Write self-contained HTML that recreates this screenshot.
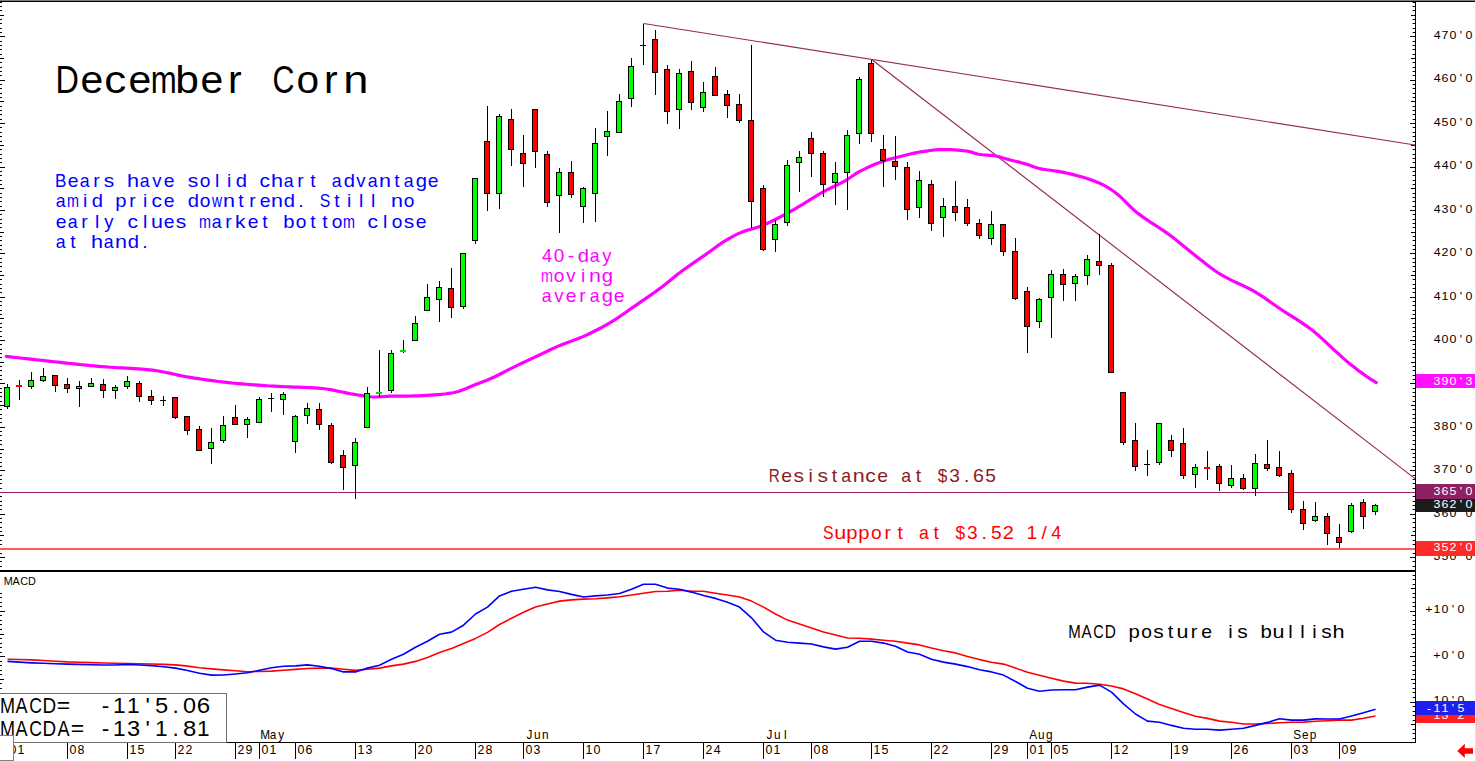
<!DOCTYPE html>
<html><head><meta charset="utf-8"><title>December Corn</title>
<style>
html,body{margin:0;padding:0;background:#fff}
body{width:1476px;height:762px;overflow:hidden;font-family:"Liberation Sans",sans-serif}
svg{display:block}
text{font-family:"Liberation Sans",sans-serif;text-anchor:middle}
</style></head><body>
<svg width="1476" height="762" viewBox="0 0 1476 762">
<rect width="1476" height="762" fill="#fff"/>
<g fill="#000" shape-rendering="crispEdges">
<rect x="0" y="566" width="2" height="1"/><rect x="1413" y="566" width="2" height="1"/><rect x="1412" y="566" width="1" height="1" fill="#999"/><rect x="0" y="561" width="2" height="1"/><rect x="1413" y="561" width="2" height="1"/><rect x="1412" y="561" width="1" height="1" fill="#999"/><rect x="0" y="557" width="5" height="1"/><rect x="1410" y="557" width="5" height="1"/><rect x="0" y="553" width="2" height="1"/><rect x="1413" y="553" width="2" height="1"/><rect x="1412" y="553" width="1" height="1" fill="#999"/><rect x="0" y="548" width="2" height="1"/><rect x="1413" y="548" width="2" height="1"/><rect x="1412" y="548" width="1" height="1" fill="#999"/><rect x="0" y="544" width="2" height="1"/><rect x="1413" y="544" width="2" height="1"/><rect x="1412" y="544" width="1" height="1" fill="#999"/><rect x="0" y="540" width="2" height="1"/><rect x="1413" y="540" width="2" height="1"/><rect x="1412" y="540" width="1" height="1" fill="#999"/><rect x="0" y="535" width="4" height="1"/><rect x="1411" y="535" width="4" height="1"/><rect x="0" y="531" width="2" height="1"/><rect x="1413" y="531" width="2" height="1"/><rect x="1412" y="531" width="1" height="1" fill="#999"/><rect x="0" y="527" width="2" height="1"/><rect x="1413" y="527" width="2" height="1"/><rect x="1412" y="527" width="1" height="1" fill="#999"/><rect x="0" y="522" width="2" height="1"/><rect x="1413" y="522" width="2" height="1"/><rect x="1412" y="522" width="1" height="1" fill="#999"/><rect x="0" y="518" width="2" height="1"/><rect x="1413" y="518" width="2" height="1"/><rect x="1412" y="518" width="1" height="1" fill="#999"/><rect x="0" y="514" width="5" height="1"/><rect x="1410" y="514" width="5" height="1"/><rect x="0" y="509" width="2" height="1"/><rect x="1413" y="509" width="2" height="1"/><rect x="1412" y="509" width="1" height="1" fill="#999"/><rect x="0" y="505" width="2" height="1"/><rect x="1413" y="505" width="2" height="1"/><rect x="1412" y="505" width="1" height="1" fill="#999"/><rect x="0" y="501" width="2" height="1"/><rect x="1413" y="501" width="2" height="1"/><rect x="1412" y="501" width="1" height="1" fill="#999"/><rect x="0" y="496" width="2" height="1"/><rect x="1413" y="496" width="2" height="1"/><rect x="1412" y="496" width="1" height="1" fill="#999"/><rect x="0" y="492" width="4" height="1"/><rect x="1411" y="492" width="4" height="1"/><rect x="0" y="488" width="2" height="1"/><rect x="1413" y="488" width="2" height="1"/><rect x="1412" y="488" width="1" height="1" fill="#999"/><rect x="0" y="483" width="2" height="1"/><rect x="1413" y="483" width="2" height="1"/><rect x="1412" y="483" width="1" height="1" fill="#999"/><rect x="0" y="479" width="2" height="1"/><rect x="1413" y="479" width="2" height="1"/><rect x="1412" y="479" width="1" height="1" fill="#999"/><rect x="0" y="475" width="2" height="1"/><rect x="1413" y="475" width="2" height="1"/><rect x="1412" y="475" width="1" height="1" fill="#999"/><rect x="0" y="470" width="5" height="1"/><rect x="1410" y="470" width="5" height="1"/><rect x="0" y="466" width="2" height="1"/><rect x="1413" y="466" width="2" height="1"/><rect x="1412" y="466" width="1" height="1" fill="#999"/><rect x="0" y="462" width="2" height="1"/><rect x="1413" y="462" width="2" height="1"/><rect x="1412" y="462" width="1" height="1" fill="#999"/><rect x="0" y="457" width="2" height="1"/><rect x="1413" y="457" width="2" height="1"/><rect x="1412" y="457" width="1" height="1" fill="#999"/><rect x="0" y="453" width="2" height="1"/><rect x="1413" y="453" width="2" height="1"/><rect x="1412" y="453" width="1" height="1" fill="#999"/><rect x="0" y="449" width="4" height="1"/><rect x="1411" y="449" width="4" height="1"/><rect x="0" y="444" width="2" height="1"/><rect x="1413" y="444" width="2" height="1"/><rect x="1412" y="444" width="1" height="1" fill="#999"/><rect x="0" y="440" width="2" height="1"/><rect x="1413" y="440" width="2" height="1"/><rect x="1412" y="440" width="1" height="1" fill="#999"/><rect x="0" y="435" width="2" height="1"/><rect x="1413" y="435" width="2" height="1"/><rect x="1412" y="435" width="1" height="1" fill="#999"/><rect x="0" y="431" width="2" height="1"/><rect x="1413" y="431" width="2" height="1"/><rect x="1412" y="431" width="1" height="1" fill="#999"/><rect x="0" y="427" width="5" height="1"/><rect x="1410" y="427" width="5" height="1"/><rect x="0" y="422" width="2" height="1"/><rect x="1413" y="422" width="2" height="1"/><rect x="1412" y="422" width="1" height="1" fill="#999"/><rect x="0" y="418" width="2" height="1"/><rect x="1413" y="418" width="2" height="1"/><rect x="1412" y="418" width="1" height="1" fill="#999"/><rect x="0" y="414" width="2" height="1"/><rect x="1413" y="414" width="2" height="1"/><rect x="1412" y="414" width="1" height="1" fill="#999"/><rect x="0" y="409" width="2" height="1"/><rect x="1413" y="409" width="2" height="1"/><rect x="1412" y="409" width="1" height="1" fill="#999"/><rect x="0" y="405" width="4" height="1"/><rect x="1411" y="405" width="4" height="1"/><rect x="0" y="401" width="2" height="1"/><rect x="1413" y="401" width="2" height="1"/><rect x="1412" y="401" width="1" height="1" fill="#999"/><rect x="0" y="396" width="2" height="1"/><rect x="1413" y="396" width="2" height="1"/><rect x="1412" y="396" width="1" height="1" fill="#999"/><rect x="0" y="392" width="2" height="1"/><rect x="1413" y="392" width="2" height="1"/><rect x="1412" y="392" width="1" height="1" fill="#999"/><rect x="0" y="388" width="2" height="1"/><rect x="1413" y="388" width="2" height="1"/><rect x="1412" y="388" width="1" height="1" fill="#999"/><rect x="0" y="383" width="5" height="1"/><rect x="1410" y="383" width="5" height="1"/><rect x="0" y="379" width="2" height="1"/><rect x="1413" y="379" width="2" height="1"/><rect x="1412" y="379" width="1" height="1" fill="#999"/><rect x="0" y="375" width="2" height="1"/><rect x="1413" y="375" width="2" height="1"/><rect x="1412" y="375" width="1" height="1" fill="#999"/><rect x="0" y="370" width="2" height="1"/><rect x="1413" y="370" width="2" height="1"/><rect x="1412" y="370" width="1" height="1" fill="#999"/><rect x="0" y="366" width="2" height="1"/><rect x="1413" y="366" width="2" height="1"/><rect x="1412" y="366" width="1" height="1" fill="#999"/><rect x="0" y="362" width="4" height="1"/><rect x="1411" y="362" width="4" height="1"/><rect x="0" y="357" width="2" height="1"/><rect x="1413" y="357" width="2" height="1"/><rect x="1412" y="357" width="1" height="1" fill="#999"/><rect x="0" y="353" width="2" height="1"/><rect x="1413" y="353" width="2" height="1"/><rect x="1412" y="353" width="1" height="1" fill="#999"/><rect x="0" y="349" width="2" height="1"/><rect x="1413" y="349" width="2" height="1"/><rect x="1412" y="349" width="1" height="1" fill="#999"/><rect x="0" y="344" width="2" height="1"/><rect x="1413" y="344" width="2" height="1"/><rect x="1412" y="344" width="1" height="1" fill="#999"/><rect x="0" y="340" width="5" height="1"/><rect x="1410" y="340" width="5" height="1"/><rect x="0" y="336" width="2" height="1"/><rect x="1413" y="336" width="2" height="1"/><rect x="1412" y="336" width="1" height="1" fill="#999"/><rect x="0" y="331" width="2" height="1"/><rect x="1413" y="331" width="2" height="1"/><rect x="1412" y="331" width="1" height="1" fill="#999"/><rect x="0" y="327" width="2" height="1"/><rect x="1413" y="327" width="2" height="1"/><rect x="1412" y="327" width="1" height="1" fill="#999"/><rect x="0" y="323" width="2" height="1"/><rect x="1413" y="323" width="2" height="1"/><rect x="1412" y="323" width="1" height="1" fill="#999"/><rect x="0" y="318" width="4" height="1"/><rect x="1411" y="318" width="4" height="1"/><rect x="0" y="314" width="2" height="1"/><rect x="1413" y="314" width="2" height="1"/><rect x="1412" y="314" width="1" height="1" fill="#999"/><rect x="0" y="310" width="2" height="1"/><rect x="1413" y="310" width="2" height="1"/><rect x="1412" y="310" width="1" height="1" fill="#999"/><rect x="0" y="305" width="2" height="1"/><rect x="1413" y="305" width="2" height="1"/><rect x="1412" y="305" width="1" height="1" fill="#999"/><rect x="0" y="301" width="2" height="1"/><rect x="1413" y="301" width="2" height="1"/><rect x="1412" y="301" width="1" height="1" fill="#999"/><rect x="0" y="297" width="5" height="1"/><rect x="1410" y="297" width="5" height="1"/><rect x="0" y="292" width="2" height="1"/><rect x="1413" y="292" width="2" height="1"/><rect x="1412" y="292" width="1" height="1" fill="#999"/><rect x="0" y="288" width="2" height="1"/><rect x="1413" y="288" width="2" height="1"/><rect x="1412" y="288" width="1" height="1" fill="#999"/><rect x="0" y="284" width="2" height="1"/><rect x="1413" y="284" width="2" height="1"/><rect x="1412" y="284" width="1" height="1" fill="#999"/><rect x="0" y="279" width="2" height="1"/><rect x="1413" y="279" width="2" height="1"/><rect x="1412" y="279" width="1" height="1" fill="#999"/><rect x="0" y="275" width="4" height="1"/><rect x="1411" y="275" width="4" height="1"/><rect x="0" y="271" width="2" height="1"/><rect x="1413" y="271" width="2" height="1"/><rect x="1412" y="271" width="1" height="1" fill="#999"/><rect x="0" y="266" width="2" height="1"/><rect x="1413" y="266" width="2" height="1"/><rect x="1412" y="266" width="1" height="1" fill="#999"/><rect x="0" y="262" width="2" height="1"/><rect x="1413" y="262" width="2" height="1"/><rect x="1412" y="262" width="1" height="1" fill="#999"/><rect x="0" y="258" width="2" height="1"/><rect x="1413" y="258" width="2" height="1"/><rect x="1412" y="258" width="1" height="1" fill="#999"/><rect x="0" y="253" width="5" height="1"/><rect x="1410" y="253" width="5" height="1"/><rect x="0" y="249" width="2" height="1"/><rect x="1413" y="249" width="2" height="1"/><rect x="1412" y="249" width="1" height="1" fill="#999"/><rect x="0" y="245" width="2" height="1"/><rect x="1413" y="245" width="2" height="1"/><rect x="1412" y="245" width="1" height="1" fill="#999"/><rect x="0" y="240" width="2" height="1"/><rect x="1413" y="240" width="2" height="1"/><rect x="1412" y="240" width="1" height="1" fill="#999"/><rect x="0" y="236" width="2" height="1"/><rect x="1413" y="236" width="2" height="1"/><rect x="1412" y="236" width="1" height="1" fill="#999"/><rect x="0" y="232" width="4" height="1"/><rect x="1411" y="232" width="4" height="1"/><rect x="0" y="227" width="2" height="1"/><rect x="1413" y="227" width="2" height="1"/><rect x="1412" y="227" width="1" height="1" fill="#999"/><rect x="0" y="223" width="2" height="1"/><rect x="1413" y="223" width="2" height="1"/><rect x="1412" y="223" width="1" height="1" fill="#999"/><rect x="0" y="219" width="2" height="1"/><rect x="1413" y="219" width="2" height="1"/><rect x="1412" y="219" width="1" height="1" fill="#999"/><rect x="0" y="214" width="2" height="1"/><rect x="1413" y="214" width="2" height="1"/><rect x="1412" y="214" width="1" height="1" fill="#999"/><rect x="0" y="210" width="5" height="1"/><rect x="1410" y="210" width="5" height="1"/><rect x="0" y="206" width="2" height="1"/><rect x="1413" y="206" width="2" height="1"/><rect x="1412" y="206" width="1" height="1" fill="#999"/><rect x="0" y="201" width="2" height="1"/><rect x="1413" y="201" width="2" height="1"/><rect x="1412" y="201" width="1" height="1" fill="#999"/><rect x="0" y="197" width="2" height="1"/><rect x="1413" y="197" width="2" height="1"/><rect x="1412" y="197" width="1" height="1" fill="#999"/><rect x="0" y="193" width="2" height="1"/><rect x="1413" y="193" width="2" height="1"/><rect x="1412" y="193" width="1" height="1" fill="#999"/><rect x="0" y="188" width="4" height="1"/><rect x="1411" y="188" width="4" height="1"/><rect x="0" y="184" width="2" height="1"/><rect x="1413" y="184" width="2" height="1"/><rect x="1412" y="184" width="1" height="1" fill="#999"/><rect x="0" y="180" width="2" height="1"/><rect x="1413" y="180" width="2" height="1"/><rect x="1412" y="180" width="1" height="1" fill="#999"/><rect x="0" y="175" width="2" height="1"/><rect x="1413" y="175" width="2" height="1"/><rect x="1412" y="175" width="1" height="1" fill="#999"/><rect x="0" y="171" width="2" height="1"/><rect x="1413" y="171" width="2" height="1"/><rect x="1412" y="171" width="1" height="1" fill="#999"/><rect x="0" y="167" width="5" height="1"/><rect x="1410" y="167" width="5" height="1"/><rect x="0" y="162" width="2" height="1"/><rect x="1413" y="162" width="2" height="1"/><rect x="1412" y="162" width="1" height="1" fill="#999"/><rect x="0" y="158" width="2" height="1"/><rect x="1413" y="158" width="2" height="1"/><rect x="1412" y="158" width="1" height="1" fill="#999"/><rect x="0" y="154" width="2" height="1"/><rect x="1413" y="154" width="2" height="1"/><rect x="1412" y="154" width="1" height="1" fill="#999"/><rect x="0" y="149" width="2" height="1"/><rect x="1413" y="149" width="2" height="1"/><rect x="1412" y="149" width="1" height="1" fill="#999"/><rect x="0" y="145" width="4" height="1"/><rect x="1411" y="145" width="4" height="1"/><rect x="0" y="141" width="2" height="1"/><rect x="1413" y="141" width="2" height="1"/><rect x="1412" y="141" width="1" height="1" fill="#999"/><rect x="0" y="136" width="2" height="1"/><rect x="1413" y="136" width="2" height="1"/><rect x="1412" y="136" width="1" height="1" fill="#999"/><rect x="0" y="132" width="2" height="1"/><rect x="1413" y="132" width="2" height="1"/><rect x="1412" y="132" width="1" height="1" fill="#999"/><rect x="0" y="127" width="2" height="1"/><rect x="1413" y="127" width="2" height="1"/><rect x="1412" y="127" width="1" height="1" fill="#999"/><rect x="0" y="123" width="5" height="1"/><rect x="1410" y="123" width="5" height="1"/><rect x="0" y="119" width="2" height="1"/><rect x="1413" y="119" width="2" height="1"/><rect x="1412" y="119" width="1" height="1" fill="#999"/><rect x="0" y="114" width="2" height="1"/><rect x="1413" y="114" width="2" height="1"/><rect x="1412" y="114" width="1" height="1" fill="#999"/><rect x="0" y="110" width="2" height="1"/><rect x="1413" y="110" width="2" height="1"/><rect x="1412" y="110" width="1" height="1" fill="#999"/><rect x="0" y="106" width="2" height="1"/><rect x="1413" y="106" width="2" height="1"/><rect x="1412" y="106" width="1" height="1" fill="#999"/><rect x="0" y="101" width="4" height="1"/><rect x="1411" y="101" width="4" height="1"/><rect x="0" y="97" width="2" height="1"/><rect x="1413" y="97" width="2" height="1"/><rect x="1412" y="97" width="1" height="1" fill="#999"/><rect x="0" y="93" width="2" height="1"/><rect x="1413" y="93" width="2" height="1"/><rect x="1412" y="93" width="1" height="1" fill="#999"/><rect x="0" y="88" width="2" height="1"/><rect x="1413" y="88" width="2" height="1"/><rect x="1412" y="88" width="1" height="1" fill="#999"/><rect x="0" y="84" width="2" height="1"/><rect x="1413" y="84" width="2" height="1"/><rect x="1412" y="84" width="1" height="1" fill="#999"/><rect x="0" y="80" width="5" height="1"/><rect x="1410" y="80" width="5" height="1"/><rect x="0" y="75" width="2" height="1"/><rect x="1413" y="75" width="2" height="1"/><rect x="1412" y="75" width="1" height="1" fill="#999"/><rect x="0" y="71" width="2" height="1"/><rect x="1413" y="71" width="2" height="1"/><rect x="1412" y="71" width="1" height="1" fill="#999"/><rect x="0" y="67" width="2" height="1"/><rect x="1413" y="67" width="2" height="1"/><rect x="1412" y="67" width="1" height="1" fill="#999"/><rect x="0" y="62" width="2" height="1"/><rect x="1413" y="62" width="2" height="1"/><rect x="1412" y="62" width="1" height="1" fill="#999"/><rect x="0" y="58" width="4" height="1"/><rect x="1411" y="58" width="4" height="1"/><rect x="0" y="54" width="2" height="1"/><rect x="1413" y="54" width="2" height="1"/><rect x="1412" y="54" width="1" height="1" fill="#999"/><rect x="0" y="49" width="2" height="1"/><rect x="1413" y="49" width="2" height="1"/><rect x="1412" y="49" width="1" height="1" fill="#999"/><rect x="0" y="45" width="2" height="1"/><rect x="1413" y="45" width="2" height="1"/><rect x="1412" y="45" width="1" height="1" fill="#999"/><rect x="0" y="41" width="2" height="1"/><rect x="1413" y="41" width="2" height="1"/><rect x="1412" y="41" width="1" height="1" fill="#999"/><rect x="0" y="36" width="5" height="1"/><rect x="1410" y="36" width="5" height="1"/><rect x="0" y="32" width="2" height="1"/><rect x="1413" y="32" width="2" height="1"/><rect x="1412" y="32" width="1" height="1" fill="#999"/><rect x="0" y="28" width="2" height="1"/><rect x="1413" y="28" width="2" height="1"/><rect x="1412" y="28" width="1" height="1" fill="#999"/><rect x="0" y="23" width="2" height="1"/><rect x="1413" y="23" width="2" height="1"/><rect x="1412" y="23" width="1" height="1" fill="#999"/><rect x="0" y="19" width="2" height="1"/><rect x="1413" y="19" width="2" height="1"/><rect x="1412" y="19" width="1" height="1" fill="#999"/><rect x="0" y="15" width="4" height="1"/><rect x="1411" y="15" width="4" height="1"/><rect x="0" y="10" width="2" height="1"/><rect x="1413" y="10" width="2" height="1"/><rect x="1412" y="10" width="1" height="1" fill="#999"/><rect x="0" y="6" width="2" height="1"/><rect x="1413" y="6" width="2" height="1"/><rect x="1412" y="6" width="1" height="1" fill="#999"/><rect x="0" y="2" width="2" height="1"/><rect x="1413" y="2" width="2" height="1"/><rect x="1412" y="2" width="1" height="1" fill="#999"/><rect x="1413" y="738" width="2" height="1"/><rect x="1412" y="738" width="1" height="1" fill="#999"/><rect x="1413" y="733" width="2" height="1"/><rect x="1412" y="733" width="1" height="1" fill="#999"/><rect x="1413" y="729" width="2" height="1"/><rect x="1412" y="729" width="1" height="1" fill="#999"/><rect x="1411" y="724" width="4" height="1"/><rect x="1413" y="720" width="2" height="1"/><rect x="1412" y="720" width="1" height="1" fill="#999"/><rect x="1413" y="715" width="2" height="1"/><rect x="1412" y="715" width="1" height="1" fill="#999"/><rect x="1413" y="711" width="2" height="1"/><rect x="1412" y="711" width="1" height="1" fill="#999"/><rect x="1413" y="706" width="2" height="1"/><rect x="1412" y="706" width="1" height="1" fill="#999"/><rect x="1410" y="702" width="5" height="1"/><rect x="1413" y="697" width="2" height="1"/><rect x="1412" y="697" width="1" height="1" fill="#999"/><rect x="1413" y="692" width="2" height="1"/><rect x="1412" y="692" width="1" height="1" fill="#999"/><rect x="1413" y="688" width="2" height="1"/><rect x="1412" y="688" width="1" height="1" fill="#999"/><rect x="0" y="688" width="2" height="1"/><rect x="1413" y="683" width="2" height="1"/><rect x="1412" y="683" width="1" height="1" fill="#999"/><rect x="0" y="683" width="2" height="1"/><rect x="1411" y="679" width="4" height="1"/><rect x="0" y="679" width="4" height="1"/><rect x="1413" y="674" width="2" height="1"/><rect x="1412" y="674" width="1" height="1" fill="#999"/><rect x="0" y="674" width="2" height="1"/><rect x="1413" y="670" width="2" height="1"/><rect x="1412" y="670" width="1" height="1" fill="#999"/><rect x="0" y="670" width="2" height="1"/><rect x="1413" y="665" width="2" height="1"/><rect x="1412" y="665" width="1" height="1" fill="#999"/><rect x="0" y="665" width="2" height="1"/><rect x="1413" y="661" width="2" height="1"/><rect x="1412" y="661" width="1" height="1" fill="#999"/><rect x="0" y="661" width="2" height="1"/><rect x="1410" y="656" width="5" height="1"/><rect x="0" y="656" width="5" height="1"/><rect x="1413" y="652" width="2" height="1"/><rect x="1412" y="652" width="1" height="1" fill="#999"/><rect x="0" y="652" width="2" height="1"/><rect x="1413" y="647" width="2" height="1"/><rect x="1412" y="647" width="1" height="1" fill="#999"/><rect x="0" y="647" width="2" height="1"/><rect x="1413" y="643" width="2" height="1"/><rect x="1412" y="643" width="1" height="1" fill="#999"/><rect x="0" y="643" width="2" height="1"/><rect x="1413" y="638" width="2" height="1"/><rect x="1412" y="638" width="1" height="1" fill="#999"/><rect x="0" y="638" width="2" height="1"/><rect x="1411" y="634" width="4" height="1"/><rect x="0" y="634" width="4" height="1"/><rect x="1413" y="629" width="2" height="1"/><rect x="1412" y="629" width="1" height="1" fill="#999"/><rect x="0" y="629" width="2" height="1"/><rect x="1413" y="624" width="2" height="1"/><rect x="1412" y="624" width="1" height="1" fill="#999"/><rect x="0" y="624" width="2" height="1"/><rect x="1413" y="620" width="2" height="1"/><rect x="1412" y="620" width="1" height="1" fill="#999"/><rect x="0" y="620" width="2" height="1"/><rect x="1413" y="615" width="2" height="1"/><rect x="1412" y="615" width="1" height="1" fill="#999"/><rect x="0" y="615" width="2" height="1"/><rect x="1410" y="611" width="5" height="1"/><rect x="0" y="611" width="5" height="1"/><rect x="1413" y="606" width="2" height="1"/><rect x="1412" y="606" width="1" height="1" fill="#999"/><rect x="0" y="606" width="2" height="1"/><rect x="1413" y="602" width="2" height="1"/><rect x="1412" y="602" width="1" height="1" fill="#999"/><rect x="0" y="602" width="2" height="1"/><rect x="1413" y="597" width="2" height="1"/><rect x="1412" y="597" width="1" height="1" fill="#999"/><rect x="0" y="597" width="2" height="1"/><rect x="1413" y="593" width="2" height="1"/><rect x="1412" y="593" width="1" height="1" fill="#999"/><rect x="0" y="593" width="2" height="1"/><rect x="1411" y="588" width="4" height="1"/><rect x="1413" y="584" width="2" height="1"/><rect x="1412" y="584" width="1" height="1" fill="#999"/><rect x="1413" y="579" width="2" height="1"/><rect x="1412" y="579" width="1" height="1" fill="#999"/><rect x="1413" y="575" width="2" height="1"/><rect x="1412" y="575" width="1" height="1" fill="#999"/>
</g>
<rect x="0" y="492" width="1415" height="1" fill="#9a2460"/>
<rect x="0" y="548" width="1415" height="2" fill="#ff5a5a"/>
<g stroke="#96285a" stroke-width="1.15" fill="none"><line x1="643.5" y1="23.5" x2="1415" y2="145"/><line x1="872" y1="59.7" x2="1415" y2="478.6"/></g>
<polyline points="6.3,356.4 10.3,356.86 14.3,357.32 18.3,357.77 22.3,358.23 26.3,358.67 30.3,359.12 34.3,359.56 38.3,360 42.3,360.43 46.3,360.87 50.3,361.31 54.3,361.75 58.3,362.19 62.3,362.63 66.3,363.07 70.3,363.51 74.3,363.94 78.3,364.36 82.3,364.78 86.3,365.18 90.3,365.57 94.3,365.94 98.3,366.3 102.3,366.64 106.3,366.96 110.3,367.24 114.3,367.49 118.3,367.73 122.3,367.96 126.3,368.19 130.3,368.42 134.3,368.66 138.3,368.93 142.3,369.22 146.3,369.55 150.3,369.93 154.3,370.39 158.3,371 162.3,371.72 166.3,372.53 170.3,373.39 174.3,374.28 178.3,375.15 182.3,376 186.3,376.77 190.3,377.45 194.3,378.07 198.3,378.68 202.3,379.28 206.3,379.86 210.3,380.42 214.3,380.96 218.3,381.47 222.3,381.96 226.3,382.41 230.3,382.83 234.3,383.22 238.3,383.59 242.3,383.94 246.3,384.28 250.3,384.6 254.3,384.91 258.3,385.2 262.3,385.47 266.3,385.73 270.3,385.98 274.3,386.22 278.3,386.43 282.3,386.61 286.3,386.77 290.3,386.92 294.3,387.06 298.3,387.2 302.3,387.35 306.3,387.52 310.3,387.71 314.3,387.92 318.3,388.18 322.3,388.5 326.3,389 330.3,389.63 334.3,390.38 338.3,391.2 342.3,392.05 346.3,392.9 350.3,393.7 354.3,394.43 358.3,395.04 362.3,395.65 366.3,396.26 370.3,396.76 374.3,396.99 378.3,396.91 382.3,396.65 386.3,396.36 390.3,396.2 394.3,396.15 398.3,396.11 402.3,396.09 406.3,396.06 410.3,396.02 414.3,395.95 418.3,395.83 422.3,395.65 426.3,395.43 430.3,395.18 434.3,394.91 438.3,394.6 442.3,394.22 446.3,393.76 450.3,393.21 454.3,392.54 458.3,391.47 462.3,390.02 466.3,388.5 470.3,386.81 474.3,385.08 478.3,383.53 482.3,382.07 486.3,380.54 490.3,378.82 494.3,376.96 498.3,374.99 502.3,372.96 506.3,370.89 510.3,368.83 514.3,366.82 518.3,364.88 522.3,362.99 526.3,361.13 530.3,359.27 534.3,357.42 538.3,355.56 542.3,353.66 546.3,351.73 550.3,349.8 554.3,347.92 558.3,346.13 562.3,344.46 566.3,342.93 570.3,341.47 574.3,340.02 578.3,338.5 582.3,336.86 586.3,335.09 590.3,333.23 594.3,331.29 598.3,329.27 602.3,327.16 606.3,324.95 610.3,322.63 614.3,320.13 618.3,317.48 622.3,314.74 626.3,311.94 630.3,309.14 634.3,306.38 638.3,303.65 642.3,300.91 646.3,298.16 650.3,295.37 654.3,292.54 658.3,289.64 662.3,286.68 666.3,283.55 670.3,280.28 674.3,276.99 678.3,273.81 682.3,270.82 686.3,267.94 690.3,265.13 694.3,262.37 698.3,259.62 702.3,256.87 706.3,254.09 710.3,251.21 714.3,248.29 718.3,245.42 722.3,242.68 726.3,240.14 730.3,237.8 734.3,235.61 738.3,233.63 742.3,231.96 746.3,230.59 750.3,229.39 754.3,228.23 758.3,226.97 762.3,225.49 766.3,223.8 770.3,221.97 774.3,220.02 778.3,217.97 782.3,215.85 786.3,213.68 790.3,211.5 794.3,209.3 798.3,206.98 802.3,204.56 806.3,202.07 810.3,199.55 814.3,197.07 818.3,194.65 822.3,192.34 826.3,190.19 830.3,188.21 834.3,186.31 838.3,184.4 842.3,182.38 846.3,180.13 850.3,177.49 854.3,174.72 858.3,172.17 862.3,170.07 866.3,168.1 870.3,166.25 874.3,164.52 878.3,162.92 882.3,161.45 886.3,160.12 890.3,158.95 894.3,157.95 898.3,157 902.3,156.04 906.3,155.02 910.3,154.01 914.3,153.07 918.3,152.25 922.3,151.62 926.3,151.05 930.3,150.5 934.3,150.03 938.3,149.68 942.3,149.51 946.3,149.53 950.3,149.66 954.3,149.89 958.3,150.19 962.3,150.57 966.3,151 970.3,151.77 974.3,153.13 978.3,154.27 982.3,154.75 986.3,155.03 990.3,155.3 994.3,155.7 998.3,156.5 1002.3,157.67 1006.3,158.91 1010.3,159.98 1014.3,160.95 1018.3,161.91 1022.3,162.93 1026.3,164.1 1030.3,165.57 1034.3,167.07 1038.3,168.29 1042.3,169.09 1046.3,169.72 1050.3,170.26 1054.3,170.8 1058.3,171.4 1062.3,172.14 1066.3,172.96 1070.3,173.88 1074.3,174.89 1078.3,175.95 1082.3,177.08 1086.3,178.3 1090.3,179.62 1094.3,181.06 1098.3,182.64 1102.3,184.43 1106.3,186.57 1110.3,189.01 1114.3,191.71 1118.3,194.92 1122.3,198.67 1126.3,202.69 1130.3,206.69 1134.3,210.41 1138.3,213.64 1142.3,216.61 1146.3,219.4 1150.3,222.07 1154.3,224.68 1158.3,227.28 1162.3,229.91 1166.3,232.65 1170.3,235.53 1174.3,238.58 1178.3,241.76 1182.3,245.02 1186.3,248.31 1190.3,251.59 1194.3,254.8 1198.3,257.92 1202.3,261.08 1206.3,264.24 1210.3,267.33 1214.3,270.28 1218.3,273 1222.3,275.45 1226.3,277.65 1230.3,279.67 1234.3,281.58 1238.3,283.44 1242.3,285.29 1246.3,287.2 1250.3,289.23 1254.3,291.44 1258.3,293.86 1262.3,296.46 1266.3,299.18 1270.3,301.97 1274.3,304.77 1278.3,307.54 1282.3,310.23 1286.3,312.82 1290.3,315.36 1294.3,317.89 1298.3,320.45 1302.3,323.09 1306.3,325.83 1310.3,328.73 1314.3,331.85 1318.3,335.25 1322.3,338.87 1326.3,342.61 1330.3,346.37 1334.3,350.07 1338.3,353.67 1342.3,357.31 1346.3,360.87 1350.3,364.22 1354.3,367.36 1358.3,370.42 1362.3,373.37 1366.3,376.21 1370.3,378.91 1374.3,381.46 1376.2,382.62" fill="none" stroke="#ff00ff" stroke-width="3.2" stroke-linejoin="round" stroke-linecap="round"/>
<g fill="#000" shape-rendering="crispEdges"><rect x="7" y="384" width="1" height="25"/><rect x="19" y="380" width="1" height="20"/><rect x="31" y="372" width="1" height="17"/><rect x="43" y="368" width="1" height="14"/><rect x="55" y="375" width="1" height="17"/><rect x="67" y="378" width="1" height="15"/><rect x="79" y="381" width="1" height="26"/><rect x="91" y="378" width="1" height="9"/><rect x="103" y="379" width="1" height="19"/><rect x="115" y="385" width="1" height="14"/><rect x="127" y="376" width="1" height="13"/><rect x="139" y="381" width="1" height="21"/><rect x="151" y="390" width="1" height="15"/><rect x="163" y="396" width="1" height="10"/><rect x="175" y="397" width="1" height="22"/><rect x="187" y="416" width="1" height="19"/><rect x="199" y="426" width="1" height="25"/><rect x="211" y="428" width="1" height="36"/><rect x="223" y="416" width="1" height="27"/><rect x="235" y="405" width="1" height="20"/><rect x="247" y="417" width="1" height="21"/><rect x="259" y="397" width="1" height="26"/><rect x="271" y="393" width="1" height="19"/><rect x="283" y="392" width="1" height="23"/><rect x="295" y="415" width="1" height="38"/><rect x="307" y="403" width="1" height="21"/><rect x="319" y="403" width="1" height="27"/><rect x="331" y="423" width="1" height="41"/><rect x="343" y="450" width="1" height="40"/><rect x="355" y="438" width="1" height="61"/><rect x="367" y="387" width="1" height="41"/><rect x="379" y="350" width="1" height="47"/><rect x="391" y="350" width="1" height="43"/><rect x="403" y="340" width="1" height="13"/><rect x="415" y="316" width="1" height="25"/><rect x="427" y="284" width="1" height="27"/><rect x="439" y="281" width="1" height="41"/><rect x="451" y="268" width="1" height="50"/><rect x="463" y="253" width="1" height="56"/><rect x="475" y="178" width="1" height="66"/><rect x="487" y="106" width="1" height="105"/><rect x="499" y="114" width="1" height="95"/><rect x="511" y="109" width="1" height="57"/><rect x="523" y="135" width="1" height="52"/><rect x="535" y="109" width="1" height="59"/><rect x="547" y="151" width="1" height="56"/><rect x="559" y="168" width="1" height="65"/><rect x="571" y="161" width="1" height="37"/><rect x="583" y="187" width="1" height="36"/><rect x="595" y="128" width="1" height="94"/><rect x="607" y="111" width="1" height="45"/><rect x="619" y="94" width="1" height="39"/><rect x="631" y="58" width="1" height="49"/><rect x="643" y="24" width="1" height="41"/><rect x="655" y="30" width="1" height="65"/><rect x="667" y="65" width="1" height="59"/><rect x="679" y="69" width="1" height="60"/><rect x="691" y="61" width="1" height="49"/><rect x="703" y="82" width="1" height="30"/><rect x="715" y="67" width="1" height="29"/><rect x="727" y="90" width="1" height="28"/><rect x="739" y="94" width="1" height="29"/><rect x="751" y="45" width="1" height="183"/><rect x="763" y="185" width="1" height="66"/><rect x="775" y="220" width="1" height="32"/><rect x="787" y="160" width="1" height="66"/><rect x="799" y="151" width="1" height="41"/><rect x="811" y="132" width="1" height="45"/><rect x="823" y="151" width="1" height="46"/><rect x="835" y="162" width="1" height="43"/><rect x="847" y="130" width="1" height="80"/><rect x="859" y="77" width="1" height="67"/><rect x="871" y="60" width="1" height="82"/><rect x="883" y="135" width="1" height="52"/><rect x="895" y="136" width="1" height="44"/><rect x="907" y="162" width="1" height="58"/><rect x="919" y="171" width="1" height="47"/><rect x="931" y="180" width="1" height="51"/><rect x="943" y="198" width="1" height="39"/><rect x="955" y="181" width="1" height="40"/><rect x="967" y="199" width="1" height="27"/><rect x="979" y="219" width="1" height="20"/><rect x="991" y="211" width="1" height="34"/><rect x="1003" y="224" width="1" height="32"/><rect x="1015" y="238" width="1" height="62"/><rect x="1027" y="287" width="1" height="66"/><rect x="1039" y="298" width="1" height="30"/><rect x="1051" y="270" width="1" height="68"/><rect x="1063" y="269" width="1" height="32"/><rect x="1075" y="274" width="1" height="27"/><rect x="1087" y="255" width="1" height="30"/><rect x="1099" y="234" width="1" height="41"/><rect x="1111" y="263" width="1" height="110"/><rect x="1123" y="392" width="1" height="53"/><rect x="1135" y="423" width="1" height="48"/><rect x="1147" y="450" width="1" height="26"/><rect x="1159" y="423" width="1" height="42"/><rect x="1171" y="435" width="1" height="22"/><rect x="1183" y="428" width="1" height="51"/><rect x="1195" y="464" width="1" height="24"/><rect x="1207" y="451" width="1" height="29"/><rect x="1219" y="464" width="1" height="27"/><rect x="1231" y="465" width="1" height="23"/><rect x="1243" y="474" width="1" height="16"/><rect x="1255" y="454" width="1" height="42"/><rect x="1267" y="440" width="1" height="31"/><rect x="1279" y="451" width="1" height="26"/><rect x="1291" y="470" width="1" height="43"/><rect x="1303" y="501" width="1" height="29"/><rect x="1315" y="502" width="1" height="20"/><rect x="1327" y="513" width="1" height="32"/><rect x="1339" y="524" width="1" height="24"/><rect x="1351" y="503" width="1" height="30"/><rect x="1363" y="499" width="1" height="30"/><rect x="1375" y="504" width="1" height="11"/></g>
<g fill="#00ff00" stroke="#000" stroke-width="1" shape-rendering="crispEdges"><rect x="4.5" y="387.5" width="5" height="19"/><rect x="28.5" y="380.5" width="5" height="6"/><rect x="40.5" y="376.5" width="5" height="4"/><rect x="76.5" y="386.5" width="5" height="2"/><rect x="88.5" y="383.5" width="5" height="3"/><rect x="112.5" y="387.5" width="5" height="3"/><rect x="124.5" y="381.5" width="5" height="5"/><rect x="208.5" y="442.5" width="5" height="6"/><rect x="220.5" y="425.5" width="5" height="15"/><rect x="244.5" y="419.5" width="5" height="5"/><rect x="256.5" y="399.5" width="5" height="23"/><rect x="280.5" y="394.5" width="5" height="5"/><rect x="292.5" y="416.5" width="5" height="25"/><rect x="304.5" y="408.5" width="5" height="7"/><rect x="352.5" y="442.5" width="5" height="23"/><rect x="364.5" y="393.5" width="5" height="34"/><rect x="388.5" y="353.5" width="5" height="37"/><rect x="412.5" y="323.5" width="5" height="17"/><rect x="424.5" y="297.5" width="5" height="13"/><rect x="436.5" y="287.5" width="5" height="12"/><rect x="460.5" y="253.5" width="5" height="53"/><rect x="472.5" y="178.5" width="5" height="62"/><rect x="496.5" y="116.5" width="5" height="77"/><rect x="556.5" y="172.5" width="5" height="23"/><rect x="580.5" y="188.5" width="5" height="18"/><rect x="592.5" y="143.5" width="5" height="50"/><rect x="604.5" y="131.5" width="5" height="5"/><rect x="616.5" y="101.5" width="5" height="31"/><rect x="628.5" y="66.5" width="5" height="32"/><rect x="676.5" y="73.5" width="5" height="36"/><rect x="700.5" y="92.5" width="5" height="15"/><rect x="772.5" y="224.5" width="5" height="15"/><rect x="784.5" y="165.5" width="5" height="57"/><rect x="796.5" y="157.5" width="5" height="5"/><rect x="832.5" y="173.5" width="5" height="9"/><rect x="844.5" y="135.5" width="5" height="37"/><rect x="856.5" y="79.5" width="5" height="54"/><rect x="916.5" y="180.5" width="5" height="27"/><rect x="940.5" y="206.5" width="5" height="11"/><rect x="988.5" y="224.5" width="5" height="14"/><rect x="1036.5" y="299.5" width="5" height="22"/><rect x="1048.5" y="274.5" width="5" height="23"/><rect x="1072.5" y="276.5" width="5" height="7"/><rect x="1084.5" y="259.5" width="5" height="16"/><rect x="1156.5" y="423.5" width="5" height="39"/><rect x="1192.5" y="467.5" width="5" height="7"/><rect x="1228.5" y="478.5" width="5" height="7"/><rect x="1252.5" y="463.5" width="5" height="25"/><rect x="1312.5" y="516.5" width="5" height="4"/><rect x="1348.5" y="505.5" width="5" height="26"/><rect x="1372.5" y="505.5" width="5" height="6"/></g>
<g fill="#ff0000" stroke="#000" stroke-width="1" shape-rendering="crispEdges"><rect x="52.5" y="375.5" width="5" height="10"/><rect x="64.5" y="384.5" width="5" height="4"/><rect x="100.5" y="384.5" width="5" height="6"/><rect x="136.5" y="383.5" width="5" height="13"/><rect x="148.5" y="396.5" width="5" height="4"/><rect x="172.5" y="397.5" width="5" height="20"/><rect x="184.5" y="416.5" width="5" height="14"/><rect x="196.5" y="429.5" width="5" height="21"/><rect x="232.5" y="417.5" width="5" height="7"/><rect x="316.5" y="409.5" width="5" height="15"/><rect x="328.5" y="425.5" width="5" height="37"/><rect x="340.5" y="455.5" width="5" height="12"/><rect x="448.5" y="288.5" width="5" height="19"/><rect x="484.5" y="141.5" width="5" height="52"/><rect x="508.5" y="119.5" width="5" height="30"/><rect x="520.5" y="153.5" width="5" height="10"/><rect x="532.5" y="109.5" width="5" height="42"/><rect x="544.5" y="154.5" width="5" height="48"/><rect x="568.5" y="172.5" width="5" height="22"/><rect x="652.5" y="39.5" width="5" height="33"/><rect x="664.5" y="69.5" width="5" height="42"/><rect x="688.5" y="71.5" width="5" height="31"/><rect x="712.5" y="76.5" width="5" height="19"/><rect x="724.5" y="94.5" width="5" height="11"/><rect x="736.5" y="104.5" width="5" height="16"/><rect x="748.5" y="120.5" width="5" height="81"/><rect x="760.5" y="188.5" width="5" height="61"/><rect x="808.5" y="138.5" width="5" height="15"/><rect x="820.5" y="153.5" width="5" height="31"/><rect x="868.5" y="63.5" width="5" height="70"/><rect x="880.5" y="149.5" width="5" height="11"/><rect x="892.5" y="161.5" width="5" height="5"/><rect x="904.5" y="167.5" width="5" height="42"/><rect x="928.5" y="184.5" width="5" height="39"/><rect x="952.5" y="206.5" width="5" height="6"/><rect x="964.5" y="207.5" width="5" height="16"/><rect x="976.5" y="223.5" width="5" height="12"/><rect x="1000.5" y="224.5" width="5" height="27"/><rect x="1012.5" y="251.5" width="5" height="47"/><rect x="1024.5" y="291.5" width="5" height="35"/><rect x="1060.5" y="274.5" width="5" height="10"/><rect x="1096.5" y="261.5" width="5" height="4"/><rect x="1108.5" y="265.5" width="5" height="107"/><rect x="1120.5" y="392.5" width="5" height="50"/><rect x="1132.5" y="440.5" width="5" height="26"/><rect x="1168.5" y="440.5" width="5" height="10"/><rect x="1180.5" y="443.5" width="5" height="32"/><rect x="1216.5" y="466.5" width="5" height="17"/><rect x="1240.5" y="478.5" width="5" height="10"/><rect x="1264.5" y="464.5" width="5" height="4"/><rect x="1276.5" y="467.5" width="5" height="8"/><rect x="1288.5" y="473.5" width="5" height="36"/><rect x="1300.5" y="509.5" width="5" height="14"/><rect x="1324.5" y="516.5" width="5" height="17"/><rect x="1336.5" y="537.5" width="5" height="5"/><rect x="1360.5" y="502.5" width="5" height="14"/></g>
<g shape-rendering="crispEdges"><rect x="16" y="385" width="6" height="2" fill="#ff0000"/><rect x="160" y="400" width="6" height="1" fill="#000"/><rect x="268" y="398" width="6" height="1" fill="#000"/><rect x="376" y="392" width="6" height="2" fill="#00e000"/><rect x="400" y="350" width="6" height="2" fill="#00e000"/><rect x="640" y="45" width="6" height="1" fill="#000"/><rect x="1144" y="464" width="6" height="1" fill="#000"/><rect x="1204" y="467" width="6" height="2" fill="#ff0000"/></g>
<polyline points="7.5,659.21 19.5,659.52 31.5,659.83 43.5,660.47 55.5,661.18 67.5,661.9 79.5,662.25 91.5,662.6 103.5,662.94 115.5,663.26 127.5,663.51 139.5,663.75 151.5,663.99 163.5,664.36 175.5,664.84 187.5,666.14 199.5,667.82 211.5,668.9 223.5,669.85 235.5,670.82 247.5,671.68 259.5,671.46 271.5,671.09 283.5,670.24 295.5,669.39 307.5,668.53 319.5,668.1 331.5,668.1 343.5,669.3 355.5,670.4 367.5,669.3 379.5,668.1 391.5,665.9 403.5,664.1 415.5,661.4 427.5,657.6 439.5,652.5 451.5,648.5 463.5,643.5 475.5,638.4 487.5,632.4 499.5,624.5 511.5,618.3 523.5,612.2 535.5,607.1 547.5,604 559.5,601.1 571.5,599.9 583.5,599.1 595.5,598.8 607.5,597.9 619.5,596.8 631.5,595 643.5,593.2 655.5,591.5 667.5,591.2 679.5,590.3 691.5,591.2 703.5,591.2 715.5,593.2 727.5,595 739.5,597 751.5,601.1 763.5,607.1 775.5,614 787.5,620.1 799.5,623.9 811.5,627.9 823.5,631.9 835.5,635 847.5,638 859.5,638.2 871.5,639.1 883.5,640.2 895.5,641.3 907.5,643.1 919.5,644.9 931.5,648 943.5,650.7 955.5,652.9 967.5,656.5 979.5,659.6 991.5,662.3 1003.5,664.1 1015.5,668.1 1027.5,672.2 1039.5,675.3 1051.5,678.2 1063.5,681.1 1075.5,683.1 1087.5,683.3 1099.5,684.2 1111.5,686 1123.5,688.9 1135.5,693.8 1147.5,699 1159.5,704.4 1171.5,708.4 1183.5,712.4 1195.5,716.2 1207.5,718.4 1219.5,721.1 1231.5,722.2 1243.5,724 1255.5,724 1267.5,723.5 1279.5,722.8 1291.5,722.3 1303.5,722.1 1315.5,721.2 1327.5,720.7 1339.5,720.1 1351.5,720.1 1363.5,718.2 1375.5,716" fill="none" stroke="#ff0000" stroke-width="1.6" stroke-linejoin="round"/>
<polyline points="7.5,661.42 19.5,662.13 31.5,662.85 43.5,663.31 55.5,663.71 67.5,664.1 79.5,664.39 91.5,664.69 103.5,664.98 115.5,664.98 127.5,664.4 139.5,665.01 151.5,665.62 163.5,666.68 175.5,668.13 187.5,670.47 199.5,673.24 211.5,675.15 223.5,675.02 235.5,673.98 247.5,672.8 259.5,670.31 271.5,667.72 283.5,666.21 295.5,665.9 307.5,664.84 319.5,666.18 331.5,668.6 343.5,671.9 355.5,671.9 367.5,668.1 379.5,665.2 391.5,659.2 403.5,654.3 415.5,647.3 427.5,641.3 439.5,634.2 451.5,632.1 463.5,625.2 475.5,614 487.5,607.1 499.5,595.9 511.5,591.2 523.5,589.2 535.5,587.2 547.5,589.9 559.5,591.5 571.5,594.4 583.5,597 595.5,595.9 607.5,595 619.5,593.5 631.5,589.2 643.5,584.3 655.5,584.3 667.5,588.1 679.5,589.2 691.5,592.1 703.5,595.5 715.5,598.4 727.5,602.2 739.5,607.1 751.5,617.8 763.5,631.9 775.5,640.2 787.5,642.2 799.5,643.1 811.5,644 823.5,646.9 835.5,649.1 847.5,647.3 859.5,641.3 871.5,641.3 883.5,643.1 895.5,646.2 907.5,652 919.5,654.3 931.5,659.2 943.5,662.1 955.5,664.1 967.5,666.6 979.5,669.7 991.5,671.9 1003.5,675.1 1015.5,681.5 1027.5,688.3 1039.5,691.2 1051.5,690 1063.5,689.8 1075.5,689.8 1087.5,687.1 1099.5,685.1 1111.5,692.1 1123.5,703.9 1135.5,714 1147.5,721.1 1159.5,722.2 1171.5,725.4 1183.5,728.3 1195.5,729.2 1207.5,729.2 1219.5,730.1 1231.5,729.2 1243.5,728.3 1255.5,725.4 1267.5,722.4 1279.5,718.8 1291.5,720.1 1303.5,720.1 1315.5,718.9 1327.5,719 1339.5,719 1351.5,716 1363.5,712.8 1375.5,709.3" fill="none" stroke="#0000ff" stroke-width="1.6" stroke-linejoin="round"/>
<g shape-rendering="crispEdges">
<rect x="0" y="0" width="1475" height="1" fill="#808080"/><rect x="0" y="1" width="1475" height="1" fill="#000"/>
<rect x="1475" y="0" width="1" height="762" fill="#e4e4e4"/>
<rect x="0" y="761" width="1476" height="1" fill="#dcdcdc"/>
<rect x="1415" y="1" width="1" height="742" fill="#000"/>
<rect x="0" y="570" width="1416" height="2" fill="#000"/>
<rect x="0" y="742" width="1416" height="1" fill="#000"/>
</g>
<g font-size="11.8" fill="#000">
<text transform="matrix(1.05 0 0 1 1437.01 560.16)">3</text>
<text transform="matrix(1.05 0 0 1 1445.01 560.16)">5</text>
<text transform="matrix(1.05 0 0 1 1452.98 560.16)">0</text>
<text transform="matrix(1.05 0 0 1 1461.01 560.16)">'</text>
<text transform="matrix(1.05 0 0 1 1468.98 560.16)">0</text>
</g>
<g font-size="11.8" fill="#000">
<text transform="matrix(1.05 0 0 1 1437.01 516.73)">3</text>
<text transform="matrix(1.05 0 0 1 1444.95 516.73)">6</text>
<text transform="matrix(1.05 0 0 1 1452.98 516.73)">0</text>
<text transform="matrix(1.05 0 0 1 1461.01 516.73)">'</text>
<text transform="matrix(1.05 0 0 1 1468.98 516.73)">0</text>
</g>
<g font-size="11.8" fill="#000">
<text transform="matrix(1.05 0 0 1 1437.01 473.3)">3</text>
<text transform="matrix(1.05 0 0 1 1445.01 473.3)">7</text>
<text transform="matrix(1.05 0 0 1 1452.98 473.3)">0</text>
<text transform="matrix(1.05 0 0 1 1461.01 473.3)">'</text>
<text transform="matrix(1.05 0 0 1 1468.98 473.3)">0</text>
</g>
<g font-size="11.8" fill="#000">
<text transform="matrix(1.05 0 0 1 1437.01 429.87)">3</text>
<text transform="matrix(1.05 0 0 1 1444.98 429.87)">8</text>
<text transform="matrix(1.05 0 0 1 1452.98 429.87)">0</text>
<text transform="matrix(1.05 0 0 1 1461.01 429.87)">'</text>
<text transform="matrix(1.05 0 0 1 1468.98 429.87)">0</text>
</g>
<g font-size="11.8" fill="#000">
<text transform="matrix(1.05 0 0 1 1437.07 343.01)">4</text>
<text transform="matrix(1.05 0 0 1 1444.98 343.01)">0</text>
<text transform="matrix(1.05 0 0 1 1452.98 343.01)">0</text>
<text transform="matrix(1.05 0 0 1 1461.01 343.01)">'</text>
<text transform="matrix(1.05 0 0 1 1468.98 343.01)">0</text>
</g>
<g font-size="11.8" fill="#000">
<text transform="matrix(1.05 0 0 1 1437.07 299.58)">4</text>
<text transform="matrix(1.05 0 0 1 1444.82 299.58)">1</text>
<text transform="matrix(1.05 0 0 1 1452.98 299.58)">0</text>
<text transform="matrix(1.05 0 0 1 1461.01 299.58)">'</text>
<text transform="matrix(1.05 0 0 1 1468.98 299.58)">0</text>
</g>
<g font-size="11.8" fill="#000">
<text transform="matrix(1.05 0 0 1 1437.07 256.15)">4</text>
<text transform="matrix(1.05 0 0 1 1445.01 256.15)">2</text>
<text transform="matrix(1.05 0 0 1 1452.98 256.15)">0</text>
<text transform="matrix(1.05 0 0 1 1461.01 256.15)">'</text>
<text transform="matrix(1.05 0 0 1 1468.98 256.15)">0</text>
</g>
<g font-size="11.8" fill="#000">
<text transform="matrix(1.05 0 0 1 1437.07 212.72)">4</text>
<text transform="matrix(1.05 0 0 1 1445.01 212.72)">3</text>
<text transform="matrix(1.05 0 0 1 1452.98 212.72)">0</text>
<text transform="matrix(1.05 0 0 1 1461.01 212.72)">'</text>
<text transform="matrix(1.05 0 0 1 1468.98 212.72)">0</text>
</g>
<g font-size="11.8" fill="#000">
<text transform="matrix(1.05 0 0 1 1437.07 169.29)">4</text>
<text transform="matrix(1.05 0 0 1 1445.07 169.29)">4</text>
<text transform="matrix(1.05 0 0 1 1452.98 169.29)">0</text>
<text transform="matrix(1.05 0 0 1 1461.01 169.29)">'</text>
<text transform="matrix(1.05 0 0 1 1468.98 169.29)">0</text>
</g>
<g font-size="11.8" fill="#000">
<text transform="matrix(1.05 0 0 1 1437.07 125.86)">4</text>
<text transform="matrix(1.05 0 0 1 1445.01 125.86)">5</text>
<text transform="matrix(1.05 0 0 1 1452.98 125.86)">0</text>
<text transform="matrix(1.05 0 0 1 1461.01 125.86)">'</text>
<text transform="matrix(1.05 0 0 1 1468.98 125.86)">0</text>
</g>
<g font-size="11.8" fill="#000">
<text transform="matrix(1.05 0 0 1 1437.07 82.43)">4</text>
<text transform="matrix(1.05 0 0 1 1444.95 82.43)">6</text>
<text transform="matrix(1.05 0 0 1 1452.98 82.43)">0</text>
<text transform="matrix(1.05 0 0 1 1461.01 82.43)">'</text>
<text transform="matrix(1.05 0 0 1 1468.98 82.43)">0</text>
</g>
<g font-size="11.8" fill="#000">
<text transform="matrix(1.05 0 0 1 1437.07 39)">4</text>
<text transform="matrix(1.05 0 0 1 1445.01 39)">7</text>
<text transform="matrix(1.05 0 0 1 1452.98 39)">0</text>
<text transform="matrix(1.05 0 0 1 1461.01 39)">'</text>
<text transform="matrix(1.05 0 0 1 1468.98 39)">0</text>
</g>
<g font-size="11.8" fill="#000">
<text transform="matrix(1.05 0 0 1 1428.99 613.25)">+</text>
<text transform="matrix(1.05 0 0 1 1436.82 613.25)">1</text>
<text transform="matrix(1.05 0 0 1 1444.98 613.25)">0</text>
<text transform="matrix(1.05 0 0 1 1453.01 613.25)">'</text>
<text transform="matrix(1.05 0 0 1 1460.98 613.25)">0</text>
</g>
<g font-size="11.8" fill="#000">
<text transform="matrix(1.05 0 0 1 1436.99 658.6)">+</text>
<text transform="matrix(1.05 0 0 1 1444.98 658.6)">0</text>
<text transform="matrix(1.05 0 0 1 1453.01 658.6)">'</text>
<text transform="matrix(1.05 0 0 1 1460.98 658.6)">0</text>
</g>
<g font-size="11.8" fill="#000">
<text transform="matrix(1.05 0 0 1 1428.99 703.95)">-</text>
<text transform="matrix(1.05 0 0 1 1436.82 703.95)">1</text>
<text transform="matrix(1.05 0 0 1 1444.98 703.95)">0</text>
<text transform="matrix(1.05 0 0 1 1453.01 703.95)">'</text>
<text transform="matrix(1.05 0 0 1 1460.98 703.95)">0</text>
</g>
<rect x="1416" y="374" width="59" height="14.4" fill="#ff10ff" shape-rendering="crispEdges"/>
<g font-size="11.8" fill="#fff">
<text transform="matrix(1.05 0 0 1 1437.01 384.6)">3</text>
<text transform="matrix(1.05 0 0 1 1445.01 384.6)">9</text>
<text transform="matrix(1.05 0 0 1 1452.98 384.6)">0</text>
<text transform="matrix(1.05 0 0 1 1461.01 384.6)">'</text>
<text transform="matrix(1.05 0 0 1 1469.01 384.6)">3</text>
</g>
<rect x="1416" y="497" width="59" height="14.6" fill="#1c1c1c" shape-rendering="crispEdges"/>
<g font-size="11.8" fill="#fff">
<text transform="matrix(1.05 0 0 1 1437.01 508.04)">3</text>
<text transform="matrix(1.05 0 0 1 1444.95 508.04)">6</text>
<text transform="matrix(1.05 0 0 1 1453.01 508.04)">2</text>
<text transform="matrix(1.05 0 0 1 1461.01 508.04)">'</text>
<text transform="matrix(1.05 0 0 1 1468.98 508.04)">0</text>
</g>
<rect x="1416" y="484" width="59" height="14.6" fill="#8f2062" shape-rendering="crispEdges"/>
<g font-size="11.8" fill="#fff">
<text transform="matrix(1.05 0 0 1 1437.01 495.01)">3</text>
<text transform="matrix(1.05 0 0 1 1444.95 495.01)">6</text>
<text transform="matrix(1.05 0 0 1 1453.01 495.01)">5</text>
<text transform="matrix(1.05 0 0 1 1461.01 495.01)">'</text>
<text transform="matrix(1.05 0 0 1 1468.98 495.01)">0</text>
</g>
<rect x="1416" y="541.4" width="59" height="14.1" fill="#ff2a2a" shape-rendering="crispEdges"/>
<g font-size="11.8" fill="#fff">
<text transform="matrix(1.05 0 0 1 1437.01 551.47)">3</text>
<text transform="matrix(1.05 0 0 1 1445.01 551.47)">5</text>
<text transform="matrix(1.05 0 0 1 1453.01 551.47)">2</text>
<text transform="matrix(1.05 0 0 1 1461.01 551.47)">'</text>
<text transform="matrix(1.05 0 0 1 1468.98 551.47)">0</text>
</g>
<rect x="1416" y="709" width="59" height="13.7" fill="#ff2020" shape-rendering="crispEdges"/>
<g font-size="11.8" fill="#fff">
<text transform="matrix(1.05 0 0 1 1436.82 719.3)">1</text>
<text transform="matrix(1.05 0 0 1 1445.01 719.3)">3</text>
<text transform="matrix(1.05 0 0 1 1453.01 719.3)">'</text>
<text transform="matrix(1.05 0 0 1 1461.01 719.3)">2</text>
</g>
<rect x="1416" y="701" width="59" height="13.6" fill="#2020ee" shape-rendering="crispEdges"/>
<g font-size="11.8" fill="#fff">
<text transform="matrix(1.05 0 0 1 1428.99 711.5)">-</text>
<text transform="matrix(1.05 0 0 1 1436.82 711.5)">1</text>
<text transform="matrix(1.05 0 0 1 1444.82 711.5)">1</text>
<text transform="matrix(1.05 0 0 1 1453.01 711.5)">'</text>
<text transform="matrix(1.05 0 0 1 1461.01 711.5)">5</text>
</g>
<g fill="#000" shape-rendering="crispEdges"><rect x="7" y="743" width="1" height="16"/><rect x="67" y="743" width="1" height="16"/><rect x="127" y="743" width="1" height="16"/><rect x="175" y="743" width="1" height="16"/><rect x="235" y="743" width="1" height="16"/><rect x="259" y="743" width="1" height="16"/><rect x="295" y="743" width="1" height="16"/><rect x="355" y="743" width="1" height="16"/><rect x="415" y="743" width="1" height="16"/><rect x="475" y="743" width="1" height="16"/><rect x="523" y="743" width="1" height="16"/><rect x="583" y="743" width="1" height="16"/><rect x="643" y="743" width="1" height="16"/><rect x="703" y="743" width="1" height="16"/><rect x="763" y="743" width="1" height="16"/><rect x="811" y="743" width="1" height="16"/><rect x="871" y="743" width="1" height="16"/><rect x="931" y="743" width="1" height="16"/><rect x="991" y="743" width="1" height="16"/><rect x="1027" y="743" width="1" height="16"/><rect x="1051" y="743" width="1" height="16"/><rect x="1111" y="743" width="1" height="16"/><rect x="1171" y="743" width="1" height="16"/><rect x="1231" y="743" width="1" height="16"/><rect x="1291" y="743" width="1" height="16"/><rect x="1339" y="743" width="1" height="16"/></g>
<g font-size="12" fill="#000">
<text transform="matrix(1.03 0 0 1 12.98 754.4)">0</text>
<text transform="matrix(1.03 0 0 1 20.82 754.4)">1</text>
</g>
<g font-size="12" fill="#000">
<text transform="matrix(1.03 0 0 1 72.98 754.4)">0</text>
<text transform="matrix(1.03 0 0 1 80.98 754.4)">8</text>
</g>
<g font-size="12" fill="#000">
<text transform="matrix(1.03 0 0 1 132.82 754.4)">1</text>
<text transform="matrix(1.03 0 0 1 141.01 754.4)">5</text>
</g>
<g font-size="12" fill="#000">
<text transform="matrix(1.03 0 0 1 181.01 754.4)">2</text>
<text transform="matrix(1.03 0 0 1 189.01 754.4)">2</text>
</g>
<g font-size="12" fill="#000">
<text transform="matrix(1.03 0 0 1 241.01 754.4)">2</text>
<text transform="matrix(1.03 0 0 1 249.01 754.4)">9</text>
</g>
<g font-size="12" fill="#000">
<text transform="matrix(1.03 0 0 1 264.98 754.4)">0</text>
<text transform="matrix(1.03 0 0 1 272.82 754.4)">1</text>
</g>
<g font-size="12" fill="#000">
<text transform="matrix(1.03 0 0 1 300.98 754.4)">0</text>
<text transform="matrix(1.03 0 0 1 308.95 754.4)">6</text>
</g>
<g font-size="12" fill="#000">
<text transform="matrix(1.03 0 0 1 360.82 754.4)">1</text>
<text transform="matrix(1.03 0 0 1 369.01 754.4)">3</text>
</g>
<g font-size="12" fill="#000">
<text transform="matrix(1.03 0 0 1 421.01 754.4)">2</text>
<text transform="matrix(1.03 0 0 1 428.98 754.4)">0</text>
</g>
<g font-size="12" fill="#000">
<text transform="matrix(1.03 0 0 1 481.01 754.4)">2</text>
<text transform="matrix(1.03 0 0 1 488.98 754.4)">8</text>
</g>
<g font-size="12" fill="#000">
<text transform="matrix(1.03 0 0 1 528.98 754.4)">0</text>
<text transform="matrix(1.03 0 0 1 537.01 754.4)">3</text>
</g>
<g font-size="12" fill="#000">
<text transform="matrix(1.03 0 0 1 588.82 754.4)">1</text>
<text transform="matrix(1.03 0 0 1 596.98 754.4)">0</text>
</g>
<g font-size="12" fill="#000">
<text transform="matrix(1.03 0 0 1 648.82 754.4)">1</text>
<text transform="matrix(1.03 0 0 1 657.01 754.4)">7</text>
</g>
<g font-size="12" fill="#000">
<text transform="matrix(1.03 0 0 1 709.01 754.4)">2</text>
<text transform="matrix(1.03 0 0 1 717.07 754.4)">4</text>
</g>
<g font-size="12" fill="#000">
<text transform="matrix(1.03 0 0 1 768.98 754.4)">0</text>
<text transform="matrix(1.03 0 0 1 776.82 754.4)">1</text>
</g>
<g font-size="12" fill="#000">
<text transform="matrix(1.03 0 0 1 816.98 754.4)">0</text>
<text transform="matrix(1.03 0 0 1 824.98 754.4)">8</text>
</g>
<g font-size="12" fill="#000">
<text transform="matrix(1.03 0 0 1 876.82 754.4)">1</text>
<text transform="matrix(1.03 0 0 1 885.01 754.4)">5</text>
</g>
<g font-size="12" fill="#000">
<text transform="matrix(1.03 0 0 1 937.01 754.4)">2</text>
<text transform="matrix(1.03 0 0 1 945.01 754.4)">2</text>
</g>
<g font-size="12" fill="#000">
<text transform="matrix(1.03 0 0 1 997.01 754.4)">2</text>
<text transform="matrix(1.03 0 0 1 1005.01 754.4)">9</text>
</g>
<g font-size="12" fill="#000">
<text transform="matrix(1.03 0 0 1 1032.98 754.4)">0</text>
<text transform="matrix(1.03 0 0 1 1040.82 754.4)">1</text>
</g>
<g font-size="12" fill="#000">
<text transform="matrix(1.03 0 0 1 1056.98 754.4)">0</text>
<text transform="matrix(1.03 0 0 1 1065.01 754.4)">5</text>
</g>
<g font-size="12" fill="#000">
<text transform="matrix(1.03 0 0 1 1116.82 754.4)">1</text>
<text transform="matrix(1.03 0 0 1 1125.01 754.4)">2</text>
</g>
<g font-size="12" fill="#000">
<text transform="matrix(1.03 0 0 1 1176.82 754.4)">1</text>
<text transform="matrix(1.03 0 0 1 1185.01 754.4)">9</text>
</g>
<g font-size="12" fill="#000">
<text transform="matrix(1.03 0 0 1 1237.01 754.4)">2</text>
<text transform="matrix(1.03 0 0 1 1244.95 754.4)">6</text>
</g>
<g font-size="12" fill="#000">
<text transform="matrix(1.03 0 0 1 1296.98 754.4)">0</text>
<text transform="matrix(1.03 0 0 1 1305.01 754.4)">3</text>
</g>
<g font-size="12" fill="#000">
<text transform="matrix(1.03 0 0 1 1344.98 754.4)">0</text>
<text transform="matrix(1.03 0 0 1 1353.01 754.4)">9</text>
</g>
<g font-size="12" fill="#000">
<text transform="matrix(0.98 0 0 1 265.22 739.4)">M</text>
<text transform="matrix(0.98 0 0 1 272.97 739.4)">a</text>
<text transform="matrix(0.98 0 0 1 281.17 739.4)">y</text>
</g>
<g font-size="12" fill="#000">
<text transform="matrix(0.98 0 0 1 529.55 739.4)">J</text>
<text transform="matrix(0.98 0 0 1 537.21 739.4)">u</text>
<text transform="matrix(0.98 0 0 1 545.21 739.4)">n</text>
</g>
<g font-size="12" fill="#000">
<text transform="matrix(0.98 0 0 1 769.55 739.4)">J</text>
<text transform="matrix(0.98 0 0 1 777.21 739.4)">u</text>
<text transform="matrix(0.98 0 0 1 785.21 739.4)">l</text>
</g>
<g font-size="12" fill="#000">
<text transform="matrix(0.98 0 0 1 1033.21 739.4)">A</text>
<text transform="matrix(0.98 0 0 1 1041.21 739.4)">u</text>
<text transform="matrix(0.98 0 0 1 1049.35 739.4)">g</text>
</g>
<g font-size="12" fill="#000">
<text transform="matrix(0.98 0 0 1 1297.21 739.4)">S</text>
<text transform="matrix(0.98 0 0 1 1305.24 739.4)">e</text>
<text transform="matrix(0.98 0 0 1 1313.06 739.4)">p</text>
</g>
<g shape-rendering="crispEdges"><rect x="-0.5" y="693.5" width="227" height="49" fill="#fff" stroke="#707070"/></g>
<g font-size="21.5" fill="#000">
<text transform="matrix(0.84 0 0 1 7.63 712.8)">M</text>
<text transform="matrix(0.84 0 0 1 21.62 712.8)">A</text>
<text transform="matrix(0.82 0 0 1 35.49 712.8)">C</text>
<text transform="matrix(0.88 0 0 1 49.29 712.8)">D</text>
<text transform="matrix(1.07 0 0 1 63.59 712.8)">=</text>
<text transform="matrix(1.05 0 0 1 105.58 712.8)">-</text>
<text transform="matrix(1.05 0 0 1 119.27 712.8)">1</text>
<text transform="matrix(1.05 0 0 1 133.27 712.8)">1</text>
<text transform="matrix(1.05 0 0 1 147.61 712.8)">'</text>
<text transform="matrix(1.1 0 0 1 161.61 712.8)">5</text>
<text transform="matrix(1.05 0 0 1 175.63 712.8)">.</text>
<text transform="matrix(1.09 0 0 1 189.56 712.8)">0</text>
<text transform="matrix(1.12 0 0 1 203.49 712.8)">6</text>
</g>
<g font-size="21.5" fill="#000">
<text transform="matrix(0.84 0 0 1 7.63 735.5)">M</text>
<text transform="matrix(0.84 0 0 1 21.62 735.5)">A</text>
<text transform="matrix(0.82 0 0 1 35.49 735.5)">C</text>
<text transform="matrix(0.88 0 0 1 49.29 735.5)">D</text>
<text transform="matrix(0.84 0 0 1 63.62 735.5)">A</text>
<text transform="matrix(1.07 0 0 1 77.59 735.5)">=</text>
<text transform="matrix(1.05 0 0 1 105.58 735.5)">-</text>
<text transform="matrix(1.05 0 0 1 119.27 735.5)">1</text>
<text transform="matrix(1.1 0 0 1 133.61 735.5)">3</text>
<text transform="matrix(1.05 0 0 1 147.61 735.5)">'</text>
<text transform="matrix(1.05 0 0 1 161.27 735.5)">1</text>
<text transform="matrix(1.05 0 0 1 175.63 735.5)">.</text>
<text transform="matrix(1.11 0 0 1 189.55 735.5)">8</text>
<text transform="matrix(1.05 0 0 1 203.27 735.5)">1</text>
</g>
<g shape-rendering="crispEdges"><rect x="-0.5" y="735.5" width="14" height="25" fill="#fff" stroke="#808080"/></g>
<g font-size="11.4" fill="#000">
<text transform="matrix(0.95 0 0 1 8.22 584.7)">M</text>
<text transform="matrix(0.95 0 0 1 16.21 584.7)">A</text>
<text transform="matrix(0.95 0 0 1 24.13 584.7)">C</text>
<text transform="matrix(0.95 0 0 1 32.02 584.7)">D</text>
</g>
<g font-size="39" fill="#000">
<text transform="matrix(0.83 0 0 1 67.17 92.7)">D</text>
<text transform="matrix(1.05 0 0 1 91.83 92.7)">e</text>
<text transform="matrix(1.13 0 0 1 115.37 92.7)">c</text>
<text transform="matrix(1.05 0 0 1 139.83 92.7)">e</text>
<text transform="matrix(0.8 0 0 1 163.67 92.7)">m</text>
<text transform="matrix(1.09 0 0 1 187.19 92.7)">b</text>
<text transform="matrix(1.05 0 0 1 211.83 92.7)">e</text>
<text transform="matrix(1.05 0 0 1 234.74 92.7)">r</text>
<text transform="matrix(0.78 0 0 1 283.51 92.7)">C</text>
<text transform="matrix(1.04 0 0 1 307.72 92.7)">o</text>
<text transform="matrix(1.05 0 0 1 330.74 92.7)">r</text>
<text transform="matrix(1.16 0 0 1 355.73 92.7)">n</text>
</g>
<g font-size="18.4" fill="#0000ff">
<text transform="matrix(0.93 0 0 1 60.76 187.4)">B</text>
<text transform="matrix(1.05 0 0 1 73.06 187.4)">e</text>
<text transform="matrix(0.96 0 0 1 84.66 187.4)">a</text>
<text transform="matrix(1.05 0 0 1 96.55 187.4)">r</text>
<text transform="matrix(1.14 0 0 1 109.05 187.4)">s</text>
<text transform="matrix(1.18 0 0 1 132.96 187.4)">h</text>
<text transform="matrix(0.96 0 0 1 144.66 187.4)">a</text>
<text transform="matrix(1.01 0 0 1 157 187.4)">v</text>
<text transform="matrix(1.05 0 0 1 169.06 187.4)">e</text>
<text transform="matrix(1.14 0 0 1 193.05 187.4)">s</text>
<text transform="matrix(1.04 0 0 1 205.01 187.4)">o</text>
<text transform="matrix(1.05 0 0 1 217.02 187.4)">l</text>
<text transform="matrix(1.05 0 0 1 229.02 187.4)">i</text>
<text transform="matrix(1.1 0 0 1 241.27 187.4)">d</text>
<text transform="matrix(1.14 0 0 1 264.84 187.4)">c</text>
<text transform="matrix(1.18 0 0 1 276.96 187.4)">h</text>
<text transform="matrix(0.96 0 0 1 288.66 187.4)">a</text>
<text transform="matrix(1.05 0 0 1 300.55 187.4)">r</text>
<text transform="matrix(1.05 0 0 1 312.93 187.4)">t</text>
<text transform="matrix(0.96 0 0 1 336.66 187.4)">a</text>
<text transform="matrix(1.1 0 0 1 349.27 187.4)">d</text>
<text transform="matrix(1.01 0 0 1 361 187.4)">v</text>
<text transform="matrix(0.96 0 0 1 372.66 187.4)">a</text>
<text transform="matrix(1.17 0 0 1 385.01 187.4)">n</text>
<text transform="matrix(1.05 0 0 1 396.93 187.4)">t</text>
<text transform="matrix(0.96 0 0 1 408.66 187.4)">a</text>
<text transform="matrix(1.1 0 0 1 421.27 187.4)">g</text>
<text transform="matrix(1.05 0 0 1 433.06 187.4)">e</text>
</g>
<g font-size="18.4" fill="#0000ff">
<text transform="matrix(0.96 0 0 1 60.66 207.45)">a</text>
<text transform="matrix(0.78 0 0 1 72.99 207.45)">m</text>
<text transform="matrix(1.05 0 0 1 85.02 207.45)">i</text>
<text transform="matrix(1.1 0 0 1 97.27 207.45)">d</text>
<text transform="matrix(1.1 0 0 1 120.76 207.45)">p</text>
<text transform="matrix(1.05 0 0 1 132.55 207.45)">r</text>
<text transform="matrix(1.05 0 0 1 145.02 207.45)">i</text>
<text transform="matrix(1.14 0 0 1 156.84 207.45)">c</text>
<text transform="matrix(1.05 0 0 1 169.06 207.45)">e</text>
<text transform="matrix(1.1 0 0 1 193.27 207.45)">d</text>
<text transform="matrix(1.04 0 0 1 205.01 207.45)">o</text>
<text transform="matrix(0.76 0 0 1 216.98 207.45)">w</text>
<text transform="matrix(1.17 0 0 1 229.01 207.45)">n</text>
<text transform="matrix(1.05 0 0 1 240.93 207.45)">t</text>
<text transform="matrix(1.05 0 0 1 252.55 207.45)">r</text>
<text transform="matrix(1.05 0 0 1 265.06 207.45)">e</text>
<text transform="matrix(1.17 0 0 1 277.01 207.45)">n</text>
<text transform="matrix(1.1 0 0 1 289.27 207.45)">d</text>
<text transform="matrix(1.05 0 0 1 301.03 207.45)">.</text>
<text transform="matrix(0.86 0 0 1 325.02 207.45)">S</text>
<text transform="matrix(1.05 0 0 1 336.93 207.45)">t</text>
<text transform="matrix(1.05 0 0 1 349.02 207.45)">i</text>
<text transform="matrix(1.05 0 0 1 361.02 207.45)">l</text>
<text transform="matrix(1.05 0 0 1 373.02 207.45)">l</text>
<text transform="matrix(1.17 0 0 1 397.01 207.45)">n</text>
<text transform="matrix(1.04 0 0 1 409.01 207.45)">o</text>
</g>
<g font-size="18.4" fill="#0000ff">
<text transform="matrix(1.05 0 0 1 61.06 227.5)">e</text>
<text transform="matrix(0.96 0 0 1 72.66 227.5)">a</text>
<text transform="matrix(1.05 0 0 1 84.55 227.5)">r</text>
<text transform="matrix(1.05 0 0 1 97.02 227.5)">l</text>
<text transform="matrix(1 0 0 1 108.95 227.5)">y</text>
<text transform="matrix(1.14 0 0 1 132.84 227.5)">c</text>
<text transform="matrix(1.05 0 0 1 145.02 227.5)">l</text>
<text transform="matrix(1.17 0 0 1 157.01 227.5)">u</text>
<text transform="matrix(1.05 0 0 1 169.06 227.5)">e</text>
<text transform="matrix(1.14 0 0 1 181.05 227.5)">s</text>
<text transform="matrix(0.78 0 0 1 204.99 227.5)">m</text>
<text transform="matrix(0.96 0 0 1 216.66 227.5)">a</text>
<text transform="matrix(1.05 0 0 1 228.55 227.5)">r</text>
<text transform="matrix(1.14 0 0 1 240.32 227.5)">k</text>
<text transform="matrix(1.05 0 0 1 253.06 227.5)">e</text>
<text transform="matrix(1.05 0 0 1 264.93 227.5)">t</text>
<text transform="matrix(1.1 0 0 1 288.76 227.5)">b</text>
<text transform="matrix(1.04 0 0 1 301.01 227.5)">o</text>
<text transform="matrix(1.05 0 0 1 312.93 227.5)">t</text>
<text transform="matrix(1.05 0 0 1 324.93 227.5)">t</text>
<text transform="matrix(1.04 0 0 1 337.01 227.5)">o</text>
<text transform="matrix(0.78 0 0 1 348.99 227.5)">m</text>
<text transform="matrix(1.14 0 0 1 372.84 227.5)">c</text>
<text transform="matrix(1.05 0 0 1 385.02 227.5)">l</text>
<text transform="matrix(1.04 0 0 1 397.01 227.5)">o</text>
<text transform="matrix(1.14 0 0 1 409.05 227.5)">s</text>
<text transform="matrix(1.05 0 0 1 421.06 227.5)">e</text>
</g>
<g font-size="18.4" fill="#0000ff">
<text transform="matrix(0.96 0 0 1 60.66 247.55)">a</text>
<text transform="matrix(1.05 0 0 1 72.93 247.55)">t</text>
<text transform="matrix(1.18 0 0 1 96.96 247.55)">h</text>
<text transform="matrix(0.96 0 0 1 108.66 247.55)">a</text>
<text transform="matrix(1.17 0 0 1 121.01 247.55)">n</text>
<text transform="matrix(1.1 0 0 1 133.27 247.55)">d</text>
<text transform="matrix(1.05 0 0 1 145.03 247.55)">.</text>
</g>
<g font-size="18.4" fill="#ff00ff">
<text transform="matrix(0.98 0 0 1 547.1 261.6)">4</text>
<text transform="matrix(1.03 0 0 1 558.96 261.6)">0</text>
<text transform="matrix(1.05 0 0 1 570.98 261.6)">-</text>
<text transform="matrix(1.1 0 0 1 583.27 261.6)">d</text>
<text transform="matrix(0.96 0 0 1 594.66 261.6)">a</text>
<text transform="matrix(1 0 0 1 606.95 261.6)">y</text>
</g>
<g font-size="18.4" fill="#ff00ff">
<text transform="matrix(0.78 0 0 1 546.99 281.65)">m</text>
<text transform="matrix(1.04 0 0 1 559.01 281.65)">o</text>
<text transform="matrix(1.01 0 0 1 571 281.65)">v</text>
<text transform="matrix(1.05 0 0 1 583.02 281.65)">i</text>
<text transform="matrix(1.17 0 0 1 595.01 281.65)">n</text>
<text transform="matrix(1.1 0 0 1 607.27 281.65)">g</text>
</g>
<g font-size="18.4" fill="#ff00ff">
<text transform="matrix(0.96 0 0 1 546.66 301.7)">a</text>
<text transform="matrix(1.01 0 0 1 559 301.7)">v</text>
<text transform="matrix(1.05 0 0 1 571.06 301.7)">e</text>
<text transform="matrix(1.05 0 0 1 582.55 301.7)">r</text>
<text transform="matrix(0.96 0 0 1 594.66 301.7)">a</text>
<text transform="matrix(1.1 0 0 1 607.27 301.7)">g</text>
<text transform="matrix(1.05 0 0 1 619.06 301.7)">e</text>
</g>
<g font-size="18.4" fill="#8a1c1c">
<text transform="matrix(0.83 0 0 1 774.35 482.3)">R</text>
<text transform="matrix(1.05 0 0 1 786.66 482.3)">e</text>
<text transform="matrix(1.14 0 0 1 798.65 482.3)">s</text>
<text transform="matrix(1.05 0 0 1 810.62 482.3)">i</text>
<text transform="matrix(1.14 0 0 1 822.65 482.3)">s</text>
<text transform="matrix(1.05 0 0 1 834.53 482.3)">t</text>
<text transform="matrix(0.96 0 0 1 846.26 482.3)">a</text>
<text transform="matrix(1.17 0 0 1 858.61 482.3)">n</text>
<text transform="matrix(1.14 0 0 1 870.44 482.3)">c</text>
<text transform="matrix(1.05 0 0 1 882.66 482.3)">e</text>
<text transform="matrix(0.96 0 0 1 906.26 482.3)">a</text>
<text transform="matrix(1.05 0 0 1 918.53 482.3)">t</text>
<text transform="matrix(0.94 0 0 1 942.65 482.3)">$</text>
<text transform="matrix(1.04 0 0 1 954.61 482.3)">3</text>
<text transform="matrix(1.05 0 0 1 966.63 482.3)">.</text>
<text transform="matrix(1.07 0 0 1 978.51 482.3)">6</text>
<text transform="matrix(1.04 0 0 1 990.61 482.3)">5</text>
</g>
<g font-size="18.4" fill="#ff0000">
<text transform="matrix(0.86 0 0 1 828.22 539.3)">S</text>
<text transform="matrix(1.17 0 0 1 840.21 539.3)">u</text>
<text transform="matrix(1.1 0 0 1 851.96 539.3)">p</text>
<text transform="matrix(1.1 0 0 1 863.96 539.3)">p</text>
<text transform="matrix(1.04 0 0 1 876.21 539.3)">o</text>
<text transform="matrix(1.05 0 0 1 887.75 539.3)">r</text>
<text transform="matrix(1.05 0 0 1 900.13 539.3)">t</text>
<text transform="matrix(0.96 0 0 1 923.86 539.3)">a</text>
<text transform="matrix(1.05 0 0 1 936.13 539.3)">t</text>
<text transform="matrix(0.94 0 0 1 960.25 539.3)">$</text>
<text transform="matrix(1.04 0 0 1 972.21 539.3)">3</text>
<text transform="matrix(1.05 0 0 1 984.23 539.3)">.</text>
<text transform="matrix(1.04 0 0 1 996.21 539.3)">5</text>
<text transform="matrix(1.09 0 0 1 1008.21 539.3)">2</text>
<text transform="matrix(1.05 0 0 1 1031.92 539.3)">1</text>
<text transform="matrix(1.05 0 0 1 1044.18 539.3)">/</text>
<text transform="matrix(0.98 0 0 1 1056.3 539.3)">4</text>
</g>
<g font-size="19" fill="#000">
<text transform="matrix(0.79 0 0 1 1074.52 638.2)">M</text>
<text transform="matrix(0.8 0 0 1 1086.52 638.2)">A</text>
<text transform="matrix(0.76 0 0 1 1098.41 638.2)">C</text>
<text transform="matrix(0.81 0 0 1 1110.25 638.2)">D</text>
<text transform="matrix(1.07 0 0 1 1134.26 638.2)">p</text>
<text transform="matrix(1.01 0 0 1 1146.51 638.2)">o</text>
<text transform="matrix(1.1 0 0 1 1158.55 638.2)">s</text>
<text transform="matrix(1.05 0 0 1 1170.43 638.2)">t</text>
<text transform="matrix(1.13 0 0 1 1182.51 638.2)">u</text>
<text transform="matrix(1.05 0 0 1 1194.03 638.2)">r</text>
<text transform="matrix(1.02 0 0 1 1206.56 638.2)">e</text>
<text transform="matrix(1.05 0 0 1 1230.52 638.2)">i</text>
<text transform="matrix(1.1 0 0 1 1242.55 638.2)">s</text>
<text transform="matrix(1.07 0 0 1 1266.26 638.2)">b</text>
<text transform="matrix(1.13 0 0 1 1278.51 638.2)">u</text>
<text transform="matrix(1.05 0 0 1 1290.52 638.2)">l</text>
<text transform="matrix(1.05 0 0 1 1302.52 638.2)">l</text>
<text transform="matrix(1.05 0 0 1 1314.52 638.2)">i</text>
<text transform="matrix(1.1 0 0 1 1326.55 638.2)">s</text>
<text transform="matrix(1.14 0 0 1 1338.46 638.2)">h</text>
</g>
<path d="M1457.3 751 L1464.8 743.8 L1464.8 748.2 L1473 748.2 L1473 753.8 L1464.8 753.8 L1464.8 758 Z" fill="#ff0000"/>
</svg></body></html>
